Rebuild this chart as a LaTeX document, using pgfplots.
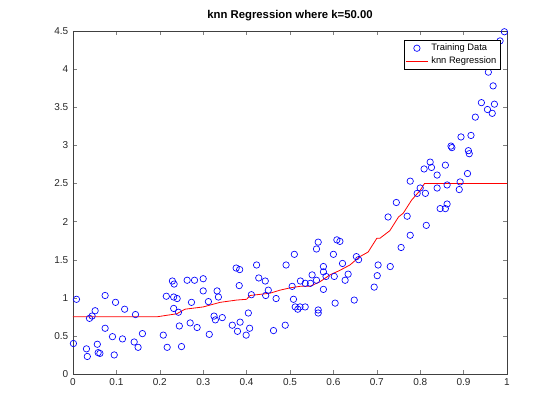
\documentclass[border=0pt]{standalone}
\usepackage{pgfplots}
\pgfplotsset{compat=1.18}
\usepackage{fontspec}
\setmainfont{Liberation Sans}
\usetikzlibrary{calc}
\begin{document}
\begin{tikzpicture}
\begin{axis}[name=ax, scale only axis, width=325.5pt, height=257.25pt,
  xmin=0, xmax=1, ymin=0, ymax=4.5,
  xtick={0,0.1,...,1}, ytick={0,0.5,...,4.5},
  xticklabels={0,0.1,0.2,0.3,0.4,0.5,0.6,0.7,0.8,0.9,1},
  yticklabels={0,0.5,1,1.5,2,2.5,3,3.5,4,4.5},
  tick align=inside, tick pos=both, major tick length=3pt,
  ticklabel style={font=\fontsize{7.5}{9}\selectfont, color=black!85},
  axis line style={black!75},
  title={\bfseries knn Regression where k=50.00}, title style={font=\fontsize{8.5}{10}\selectfont, yshift=-2pt},
  legend style={at={(0.985,0.975)}, anchor=north east, font=\fontsize{7}{8}\selectfont, draw=black, inner sep=1pt, row sep=-1pt},
  legend cell align=left,
]
\addplot[only marks, mark=o, blue, mark size=2.4pt, line width=0.5pt] coordinates {
(0.001,0.40)(0.008,0.98)(0.031,0.33)(0.033,0.23)(0.038,0.73)(0.044,0.76)(0.051,0.83)(0.056,0.39)(0.058,0.28)(0.062,0.27)
(0.074,1.03)(0.074,0.60)(0.091,0.49)(0.095,0.25)(0.098,0.94)(0.114,0.46)(0.119,0.85)(0.141,0.42)(0.144,0.78)(0.150,0.35)
(0.160,0.53)(0.208,0.51)(0.215,1.02)(0.217,0.35)(0.229,1.22)(0.232,1.01)(0.233,1.18)(0.232,0.86)(0.240,0.99)(0.243,0.81)
(0.245,0.63)(0.250,0.36)(0.263,1.23)(0.273,0.94)(0.270,0.67)(0.280,1.23)(0.286,0.61)(0.300,1.25)(0.300,1.09)(0.312,0.95)
(0.314,0.52)(0.325,0.76)(0.328,0.71)(0.332,1.09)(0.335,1.01)(0.344,0.74)(0.367,0.64)(0.376,1.39)(0.379,0.56)(0.384,1.37)
(0.383,1.16)(0.385,0.68)(0.399,0.51)(0.404,0.80)(0.407,0.60)(0.411,1.04)(0.423,1.43)(0.428,1.26)(0.443,1.22)(0.444,1.03)
(0.450,1.10)(0.462,0.57)(0.468,0.99)(0.489,0.64)(0.491,1.43)(0.505,1.15)(0.508,0.98)(0.510,1.57)(0.512,0.88)(0.518,0.85)
(0.523,0.88)(0.535,0.88)(0.524,1.22)(0.535,1.19)(0.547,1.19)(0.551,1.30)(0.561,1.23)(0.561,1.64)(0.565,1.73)(0.565,0.84)
(0.565,0.80)(0.577,1.41)(0.577,1.34)(0.577,1.11)(0.583,1.28)(0.600,1.57)(0.602,1.28)(0.604,0.93)(0.608,1.76)(0.615,1.74)
(0.621,1.45)(0.627,1.23)(0.634,1.31)(0.648,0.97)(0.653,1.54)(0.658,1.50)(0.694,1.14)(0.701,1.29)(0.703,1.43)(0.731,1.41)
(0.726,2.06)(0.745,2.25)(0.756,1.66)(0.770,2.07)(0.777,1.82)(0.814,1.95)(0.777,2.53)(0.793,2.37)(0.800,2.44)(0.812,2.37)
(0.809,2.69)(0.823,2.78)(0.826,2.71)(0.839,2.61)(0.839,2.44)(0.846,2.17)(0.858,2.17)(0.862,2.23)(0.858,2.74)(0.862,2.48)
(0.871,2.99)(0.873,2.97)(0.890,2.42)(0.892,2.52)(0.894,3.11)(0.909,2.63)(0.911,2.93)(0.913,2.89)(0.917,3.13)(0.927,3.37)
(0.941,3.56)(0.955,3.47)(0.957,3.96)(0.966,3.42)(0.968,3.78)(0.971,3.54)(0.978,4.08)(0.984,4.37)(0.994,4.49)
};
\addlegendentry{Training Data}
\addplot[red, line width=0.6pt] coordinates {
(0,0.75)(0.193,0.75)(0.239,0.79)(0.258,0.85)(0.300,0.88)(0.339,0.94)(0.377,0.97)(0.400,0.98)(0.408,1.03)(0.454,1.06)
(0.477,1.10)(0.500,1.13)(0.523,1.15)(0.546,1.15)(0.569,1.21)(0.592,1.30)(0.615,1.36)(0.638,1.43)(0.661,1.54)(0.680,1.60)
(0.700,1.78)(0.707,1.78)(0.730,1.88)(0.750,2.06)(0.761,2.11)(0.780,2.28)(0.800,2.41)(0.810,2.50)(1,2.50)
};
\addlegendentry{knn Regression}
\end{axis}
\path[use as bounding box] ($(ax.south west)+(-54.75pt,-34.5pt)$) rectangle ($(ax.north east)+(39.75pt,23.25pt)$);
\end{tikzpicture}
\end{document}
